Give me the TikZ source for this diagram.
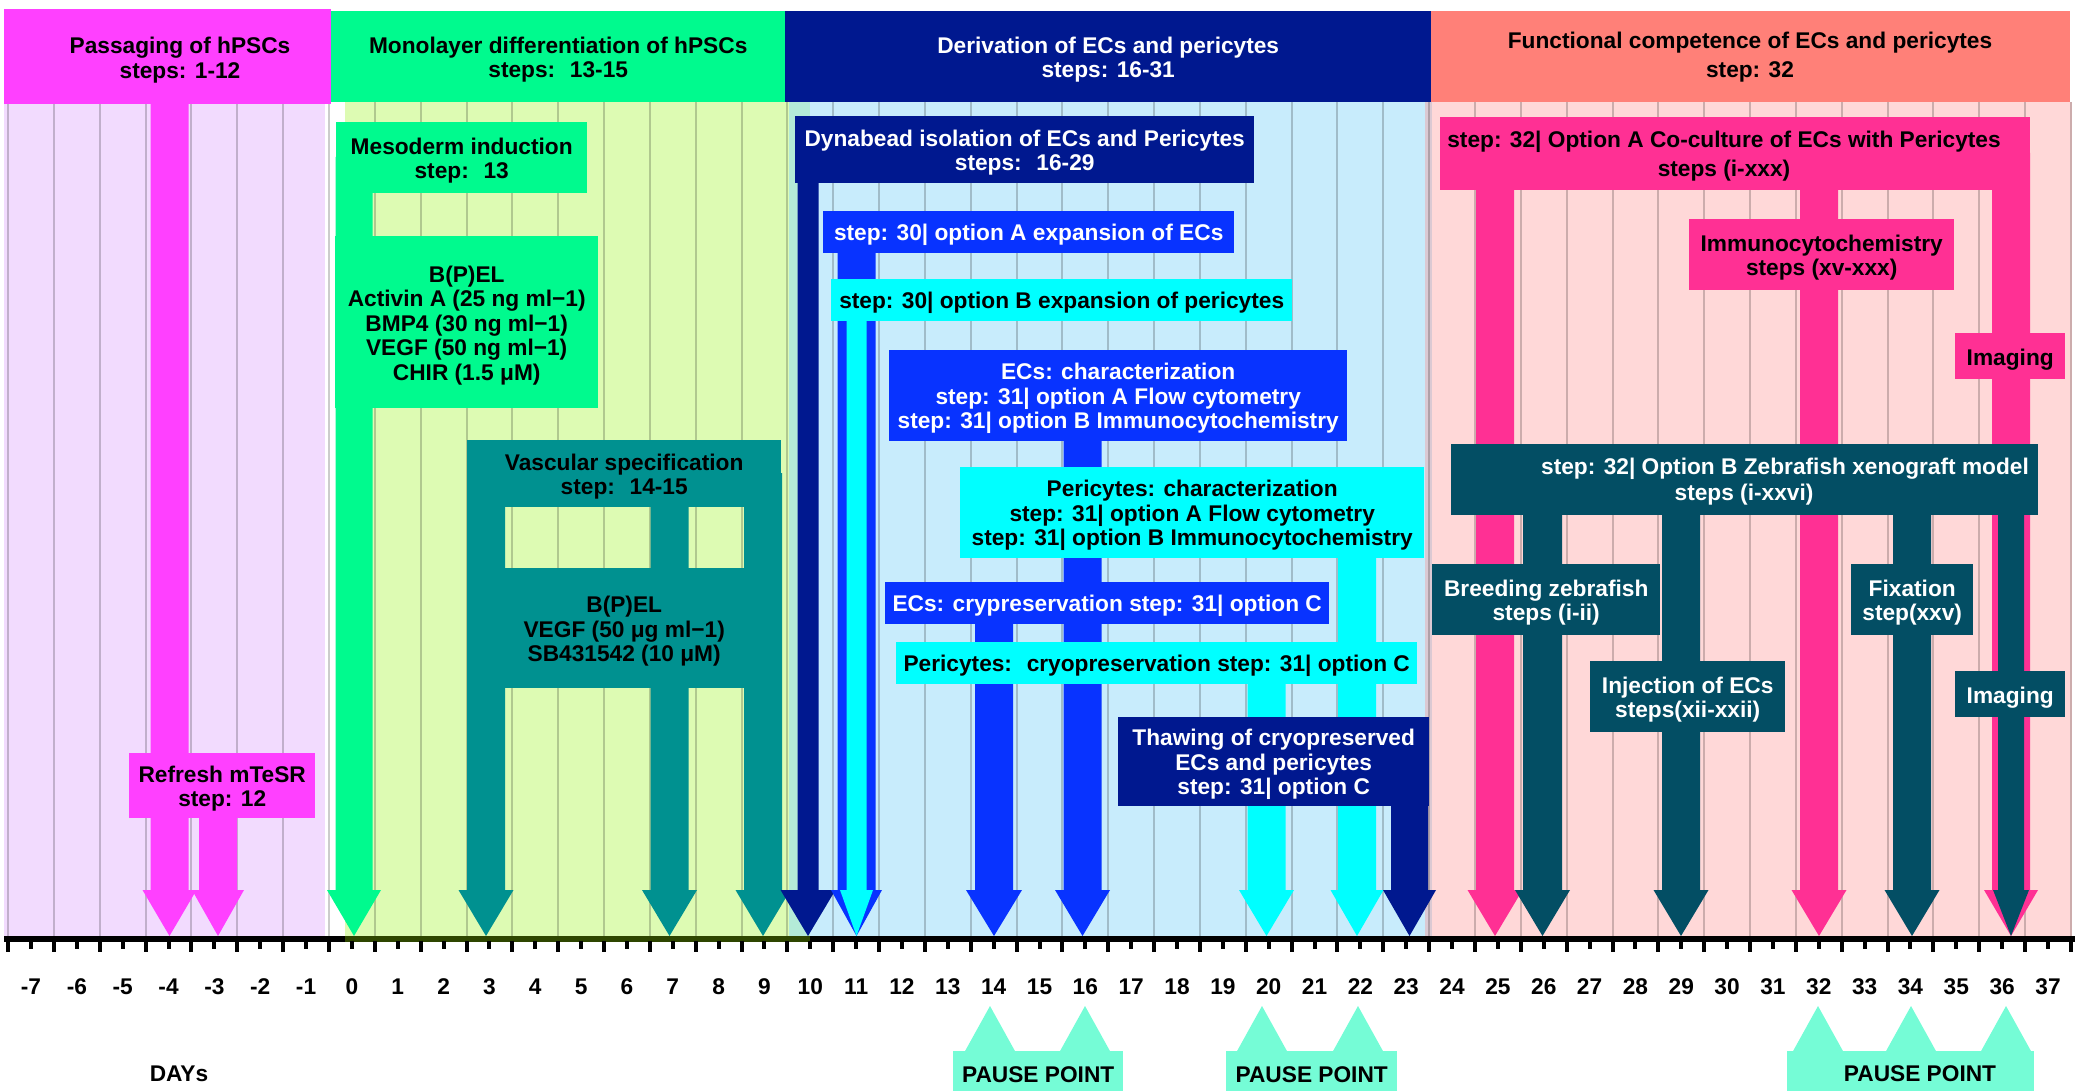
\documentclass[tikz,border=0pt]{standalone}
\usepackage{fontspec}
\setmainfont{Liberation Sans}
\usetikzlibrary{calc}
\definecolor{mag}{HTML}{FF40FF}
\definecolor{lav}{HTML}{F2DBFE}
\definecolor{sgreen}{HTML}{00FA8E}
\definecolor{pgreen}{HTML}{DDFBB3}
\definecolor{vteal}{HTML}{009190}
\definecolor{navyA}{HTML}{00188F}
\definecolor{eblue}{HTML}{0833FF}
\definecolor{ecyan}{HTML}{00FFFF}
\definecolor{pblue}{HTML}{C8ECFC}
\definecolor{salmonA}{HTML}{FF8078}
\definecolor{ppink}{HTML}{FFD8D8}
\definecolor{hpink}{HTML}{FF3094}
\definecolor{zteal}{HTML}{034E64}
\definecolor{mintA}{HTML}{75FCD6}
\definecolor{ovl}{HTML}{B4EBD8}
\definecolor{ovlB}{HTML}{DBC9D3}
\definecolor{oliveA}{HTML}{2E4600}
\tikzset{
  lbl/.style={font=\fontsize{22.7}{24.5}\selectfont\bfseries, align=center, inner sep=0pt},
  box/.style={fill=#1, inner sep=0pt, anchor=north west},
  gridline/.style={draw=black, opacity=0.2, line width=2pt},
}
% box: name, fill, text colour, x1, y1, x2, y2, text (text node named <name>t, a little below centre)
\newcommand\bnode[8]{\node[box=#2, minimum width={(#6)-(#4)}, minimum height={(#7)-(#5)}] (#1) at (#4,#5) {};
  \node[lbl, text=#3] (#1t) at ([yshift=-3pt]#1.center) {#8};}
% arrow: colour, start node, tip coordinate, stem half width, head half width
\newcommand\dayarrow[5]{%
  \fill[#1] let \p1=(#2), \p2=(#3) in
   ({\x2-#4pt},\y1) -- ({\x2+#4pt},\y1) -- ({\x2+#4pt},{\y2+46pt}) -- ({\x2+#5pt},{\y2+46pt})
   -- (\x2,\y2) -- ({\x2-#5pt},{\y2+46pt}) -- ({\x2-#4pt},{\y2+46pt}) -- cycle;}
\newcommand\ptri[1]{\fill[mintA] ({#1-25.5},1052) -- (#1,1006) -- ({#1+25.5},1052) -- cycle;}
\begin{document}
\begin{tikzpicture}[x=1pt,y=-1pt]
\useasboundingbox (0,0) rectangle (2082,1091);
% panels
\fill[lav] (4,103) rectangle (325,936);
\fill[pgreen] (345,102) rectangle (810,936);
\fill[pblue] (789,102) rectangle (1428,936);
\fill[ovl] (789,102) rectangle (810,936);
\fill[ppink] (1428,102) rectangle (2072,936);
\fill[ovlB] (1425,102) rectangle (1432,936);
% grid
\foreach \i in {-8,...,37} \draw[gridline] ({351.9+45.84*(\i+0.5)},102) -- ++(0,834);
% axis
\fill[black] (4,936) rectangle (2075,942);
\fill[oliveA] (345,936) rectangle (810,942);
\foreach \i in {-8,...,37} \fill[black] ({351.9+45.84*(\i+0.5)-2},941) rectangle ++(4,11);
\foreach \n in {-7,...,37} \fill[black] ({351.9+45.84*\n-2},941) rectangle ++(4,8);
\foreach \n in {-7,...,37} \node[lbl] (lab\n) at ({351.9+45.84*\n},986.5) {\n};
% tip coordinates
\coordinate (tm4) at (169.5,936);
\coordinate (tm3) at (218,936);
\coordinate (t0) at (354,936);
\coordinate (t3) at (486,936);
\coordinate (t7) at (669.5,936);
\coordinate (t9) at (763,936);
\coordinate (t10) at (808,936);
\coordinate (t11) at (856.5,936);
\coordinate (t14) at (994,936);
\coordinate (t16) at (1082.5,936);
\coordinate (t20) at (1266.5,936);
\coordinate (t22) at (1357,936);
\coordinate (t23) at (1409.5,936);
\coordinate (t25) at (1495,936);
\coordinate (t26) at (1542.5,936);
\coordinate (t29) at (1681,936);
\coordinate (t32) at (1819,936);
\coordinate (t34) at (1912,936);
\coordinate (t36) at (2011,936);
% anchor coordinates for stems (box centres)
\coordinate (passc) at (167,56);
\coordinate (refc) at (222,785);
\coordinate (mesoc) at (461,157);
\coordinate (vascc) at (624,473);
\coordinate (dynac) at (1024,150);
\coordinate (optAc) at (1028,232);
\coordinate (optBc) at (1061,300);
\coordinate (eccharc) at (1118,395);
\coordinate (pericharc) at (1192,512);
\coordinate (eccryoc) at (1107,603);
\coordinate (pericryoc) at (1156,663);
\coordinate (thawc) at (1273,761);
\coordinate (cocultc) at (1735,153);
\coordinate (zebrac) at (1744,479);
% arrows
\dayarrow{mag}{passc}{tm4}{19}{27}
\dayarrow{mag}{refc}{tm3}{19}{26}
\dayarrow{sgreen}{mesoc}{t0}{18.5}{27}
\dayarrow{vteal}{vascc}{t3}{19}{27.5}
\dayarrow{vteal}{vascc}{t7}{19}{27.5}
\dayarrow{vteal}{vascc}{t9}{19}{27.5}
\dayarrow{navyA}{dynac}{t10}{10.5}{27.5}
\dayarrow{eblue}{optAc}{t11}{19}{25.5}
\dayarrow{ecyan}{optBc}{t11}{10}{16.5}
\dayarrow{eblue}{eccharc}{t16}{19}{27.5}
\dayarrow{eblue}{eccryoc}{t14}{19}{28}
\dayarrow{ecyan}{pericharc}{t22}{19}{26.5}
\dayarrow{ecyan}{pericryoc}{t20}{19}{27.5}
\dayarrow{navyA}{thawc}{t23}{18.5}{26.5}
\dayarrow{hpink}{cocultc}{t25}{19}{27.5}
\dayarrow{hpink}{cocultc}{t32}{19}{27.5}
\dayarrow{hpink}{cocultc}{t36}{19}{27}
\dayarrow{zteal}{zebrac}{t26}{19.5}{27.5}
\dayarrow{zteal}{zebrac}{t29}{19}{27.5}
\dayarrow{zteal}{zebrac}{t34}{19}{27.5}
\dayarrow{zteal}{zebrac}{t36}{13}{18}
% headers
\node[box=mag, minimum width=327pt, minimum height=95pt] (passhdr) at (4,9) {};
\node[lbl] (passtxt) at (180,60) {Passaging of hPSCs\\steps: 1-12};
\bnode{monohdr}{sgreen}{black}{331}{11}{785}{102}{Monolayer differentiation of hPSCs\\steps:~ 13-15}
\bnode{derivhdr}{navyA}{white}{785}{11}{1431}{102}{Derivation of ECs and pericytes\\steps: 16-31}
\node[box=salmonA, minimum width=639pt, minimum height=91pt] (funchdr) at (1431,11) {};
\node[lbl, font=\fontsize{22.7}{29.5}\selectfont\bfseries] (funchdrt) at (1750,57) {Functional competence of ECs and pericytes\\step: 32};
% boxes
\bnode{refresh}{mag}{black}{129}{753}{315}{818}{Refresh mTeSR\\step: 12}
\bnode{meso}{sgreen}{black}{336}{122}{587}{193}{Mesoderm induction\\step:~ 13}
\bnode{bpelA}{sgreen}{black}{335}{236}{598}{408}{B(P)EL\\Activin A (25 ng ml−1)\\BMP4 (30 ng ml−1)\\VEGF (50 ng ml−1)\\CHIR (1.5 μM)}
\bnode{vasc}{vteal}{black}{467}{440}{781}{507}{Vascular specification\\step:~ 14-15}
\bnode{bpelB}{vteal}{black}{467}{568}{781}{688}{B(P)EL\\VEGF (50 μg ml−1)\\SB431542 (10 μM)}
\bnode{dyna}{navyA}{white}{795}{116}{1254}{183}{Dynabead isolation of ECs and Pericytes\\steps:~ 16-29}
\bnode{optA}{eblue}{white}{823}{211}{1234}{253}{step: 30| option A expansion of ECs}
\bnode{optB}{ecyan}{black}{831}{279}{1292}{321}{step: 30| option B expansion of pericytes}
\bnode{ecchar}{eblue}{white}{889}{350}{1347}{441}{ECs: characterization\\step: 31| option A Flow cytometry\\step: 31| option B Immunocytochemistry}
\bnode{perichar}{ecyan}{black}{960}{467}{1424}{558}{Pericytes: characterization\\step: 31| option A Flow cytometry\\step: 31| option B Immunocytochemistry}
\bnode{eccryo}{eblue}{white}{885}{582}{1329}{624}{ECs: crypreservation step: 31| option C}
\bnode{pericryo}{ecyan}{black}{896}{642}{1417}{684}{Pericytes:~ cryopreservation step: 31| option C}
\bnode{thaw}{navyA}{white}{1118}{717}{1429}{806}{Thawing of cryopreserved\\ECs and pericytes\\step: 31| option C}
\node[box=hpink, minimum width=590pt, minimum height=73pt] (cocult) at (1440,117) {};
\node[lbl, font=\fontsize{22.7}{29.5}\selectfont\bfseries] (cocultxt) at (1724,156) {step: 32| Option A Co-culture of ECs with Pericytes\\steps (i-xxx)};
\bnode{immuno}{hpink}{black}{1689}{219}{1954}{290}{Immunocytochemistry\\steps (xv-xxx)}
\bnode{pimg}{hpink}{black}{1955}{333}{2065}{379}{Imaging}
\node[box=zteal, minimum width=587pt, minimum height=71pt] (zebra) at (1451,444) {};
\node[lbl, text=white] (zebratxtA) at (1785,469) {step: 32| Option B Zebrafish xenograft model};
\node[lbl, text=white] (zebratxtB) at (1744,495) {steps (i-xxvi)};
\bnode{breed}{zteal}{white}{1432}{564}{1660}{635}{Breeding zebrafish\\steps (i-ii)}
\bnode{inject}{zteal}{white}{1590}{661}{1785}{732}{Injection of ECs\\steps(xii-xxii)}
\bnode{fix}{zteal}{white}{1851}{564}{1973}{635}{Fixation\\step(xxv)}
\bnode{timg}{zteal}{white}{1955}{671}{2065}{717}{Imaging}
% pause points
\ptri{990}\ptri{1085}\ptri{1262}\ptri{1358}\ptri{1818}\ptri{1911}\ptri{2006}
\bnode{ppA}{mintA}{black}{953}{1051}{1123}{1091}{PAUSE POINT}
\bnode{ppB}{mintA}{black}{1226}{1051}{1397}{1091}{PAUSE POINT}
\node[box=mintA, minimum width=247pt, minimum height=40pt] (ppC) at (1787,1051) {};
\node[lbl] (ppCtxt) at (1920,1074) {PAUSE POINT};
\node[lbl] (days) at (179,1074) {DAYs};
\end{tikzpicture}
\end{document}
